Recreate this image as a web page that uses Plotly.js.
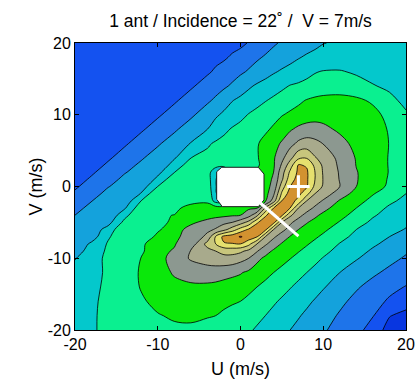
<!DOCTYPE html>
<html><head><meta charset="utf-8">
<script src="https://cdn.plot.ly/plotly-3.0.1.min.js"></script>
<style>html,body{margin:0;padding:0;background:#fff;}#chart{width:417px;height:379px;}</style>
</head><body><div id="chart"></div>
<script>
// Grid (U across, V down from +20 to -20); finer spacing around the central lobe
const uVals = [-20,-18,-16,-14,-12,-10,-8,-6,-4,-3,-2,-1,0,1,2,3,4,5,6,7,8,9,10,12,14,16,18,20];
const vVals = [20,18,16,14,12,10,8,6,4,3,2,1,0,-1,-2,-3,-4,-5,-6,-7,-8,-9,-10,-12,-14,-16,-18,-20];
const zRows = [
[1.2,1.2,1.22,1.25,1.28,1.32,1.38,1.45,1.52,1.57,1.63,1.7,1.78,2.06,2.33,2.61,2.89,3.1,3.28,3.45,3.62,3.79,3.97,4.12,4.22,4.3,4.33,4.35],
[1.2,1.22,1.25,1.28,1.32,1.38,1.45,1.55,1.68,1.78,1.88,2.12,2.37,2.62,2.87,3.1,3.31,3.52,3.73,3.94,4.12,4.25,4.35,4.5,4.52,4.48,4.42,4.38],
[1.22,1.25,1.28,1.32,1.38,1.45,1.55,1.68,1.88,2.12,2.37,2.61,2.85,3.1,3.37,3.63,3.9,4.12,4.3,4.5,4.75,4.95,5.05,5.06,4.9,4.72,4.6,4.52],
[1.25,1.28,1.32,1.38,1.45,1.55,1.68,1.88,2.37,2.61,2.85,3.14,3.5,3.86,4.14,4.36,4.59,4.82,5.05,5.15,5.25,5.35,5.42,5.45,5.3,5.05,4.85,4.7],
[1.28,1.32,1.38,1.45,1.55,1.68,1.88,2.37,2.85,3.16,3.56,3.96,4.22,4.46,4.71,4.95,5.17,5.39,5.61,5.83,6.05,6.2,6.3,6.35,6.2,5.85,5.2,4.8],
[1.32,1.38,1.45,1.55,1.68,1.88,2.36,2.83,3.48,3.85,4.18,4.47,4.76,5.05,5.27,5.5,5.73,5.95,6.15,6.32,6.47,6.6,6.68,6.7,6.55,6.3,5.7,5.1],
[1.38,1.45,1.55,1.68,1.88,2.37,2.85,3.45,3.99,4.45,4.79,5.08,5.27,5.47,5.67,5.86,6.12,6.5,6.88,7.2,7.4,7.4,7.2,6.85,6.56,6.26,5.95,5.5],
[1.45,1.55,1.68,1.88,2.38,2.88,3.44,4.04,4.88,5.11,5.28,5.44,5.61,5.77,5.93,6.25,6.67,7.11,7.67,8.2,8.4,8.25,7.97,7.28,6.76,6.37,5.98,5.6],
[1.55,1.68,1.873,2.38,2.895,3.42,3.89,4.99,5.23,5.35,5.46,5.58,5.7,5.82,5.94,6.29,6.88,7.73,8.7,9.78,9.92,9.08,8.61,7.74,6.93,6.44,5.95,5.5],
[1.5,1.61,2.13,2.668,3.16,3.126,4.45,5.45,5.3,5.4,5.5,5.6,5.7,5.8,5.9,6.25,6.88,8.13,9.5,11.07,10.89,9.75,8.8,7.83,6.97,6.45,5.95,5.5],
[1.7,1.867,2.4,2.938,3.35,3.714,4.984,5.3,5.45,4.3,3.5,5.7,5.8,5.9,6.1,6.6,7.0,8.57,10.17,11.2,11.15,10.0,8.9,7.91,7.04,6.6,5.95,5.6],
[1.61,2.13,2.667,3.2,3.088,4.25,5.68,5.4,5.5,4.1,2.5,5.8,5.9,5.95,6.0,6.5,7.17,8.83,10.57,11.35,11.15,10.0,8.95,7.95,7.05,6.55,5.9,5.45],
[1.867,2.4,2.967,3.3,3.455,5.01,5.35,5.5,5.6,4.1,2.5,5.85,5.9,5.95,5.9,6.6,7.33,9.5,11.0,11.6,11.1,9.78,8.87,8.0,7.0,6.4,5.85,5.2],
[2.15,2.73,3.2,3.26,4.06,5.94,5.6,5.65,5.75,4.2,2.5,5.9,5.95,6.0,6.0,6.6,7.82,10.17,11.45,11.3,10.33,9.0,8.55,7.5,6.65,6.06,5.53,5.0],
[2.45,2.984,3.3,3.327,5.01,5.6,5.75,5.8,5.85,4.6,4.5,6.0,6.05,6.1,6.2,6.85,8.5,11.0,11.45,10.67,9.0,8.44,7.9,6.91,6.32,5.75,5.19,4.75],
[2.834,3.15,3.45,3.874,5.676,5.75,5.85,6.22,6.35,6.45,6.55,6.65,6.75,6.85,6.95,9.11,11.0,11.7,11.0,9.0,8.41,7.83,7.28,6.57,6.0,5.43,4.85,4.55],
[3.0,3.07,3.144,4.7,5.9,5.95,6.01,6.3,6.6,6.72,6.8,6.9,7.0,7.59,8.75,10.83,11.75,11.15,9.2,8.31,7.68,7.16,6.81,6.27,5.7,5.09,4.7,4.35],
[3.1,3.35,3.648,5.287,5.5,5.8,6.133,6.826,7.29,7.53,7.76,8.0,8.56,9.33,10.86,11.67,11.3,9.0,8.17,7.58,7.05,6.76,6.49,5.94,5.34,4.83,4.5,4.15],
[3.3,3.4,4.4,5.9,5.7,5.85,6.6,7.327,7.77,8.09,8.7,9.5,10.4,11.15,11.75,11.25,9.0,8.29,7.63,7.0,6.72,6.44,6.17,5.59,5.0,4.63,4.26,3.95],
[3.4,3.486,4.894,5.6,5.25,6.25,6.946,7.1,8.3,10.1,11.3,11.55,12.1,11.58,11.05,9.0,8.17,7.5,6.95,6.67,6.4,6.12,5.84,5.26,4.78,4.39,4.0,3.7],
[3.2,4.2,5.09,5.5,5.85,6.45,6.952,7.43,9.33,10.0,10.9,10.95,11.0,10.3,9.0,8.17,7.47,6.92,6.64,6.36,6.08,5.8,5.51,4.96,4.54,4.13,3.77,3.45],
[3.376,4.6,5.116,5.5,5.8,6.85,7.05,8.05,8.68,9.0,9.25,9.35,9.2,8.73,8.07,7.36,6.86,6.59,6.32,6.05,5.78,5.5,5.22,4.74,4.31,3.88,3.5,3.1],
[3.963,4.4,5.323,5.81,6.01,6.68,7.32,8.12,8.55,8.7,8.75,8.65,8.35,8.0,7.23,6.82,6.55,6.29,6.03,5.76,5.49,5.22,4.96,4.51,4.07,3.65,3.24,2.9],
[4.25,4.6,5.2,5.55,6.1,6.6,7.1,7.35,7.4,7.38,7.3,7.2,7.07,6.81,6.54,6.27,6.0,5.75,5.5,5.25,5.0,4.75,4.5,4.0,3.55,3.15,2.8,2.5],
[4.4,4.7,5.25,5.6,6.05,6.5,6.75,6.85,6.85,6.8,6.7,6.6,6.5,6.25,6.0,5.76,5.52,5.29,5.05,4.8,4.56,4.32,4.07,3.6,3.1,2.7,2.3,1.95],
[4.5,4.8,5.3,5.6,5.9,6.2,6.35,6.4,6.35,6.3,6.2,6.1,6.0,5.78,5.56,5.33,5.11,4.88,4.64,4.4,4.17,3.93,3.68,3.2,2.75,2.4,1.85,1.45],
[4.55,4.85,5.3,5.55,5.75,5.95,6.1,6.15,6.05,6.0,5.85,5.7,5.6,5.4,5.2,5.0,4.77,4.53,4.3,4.07,3.84,3.6,3.37,2.9,2.5,2.05,1.05,0.7],
[4.6,4.88,5.25,5.45,5.6,5.75,5.85,5.85,5.75,5.68,5.6,5.45,5.3,5.1,4.9,4.67,4.45,4.22,4.0,3.78,3.56,3.34,3.1,2.7,2.3,1.6,0.6,0.4]
];
// one colour per band: below 1, 1-2, ..., 11-12, above 12
const bandColors = ["#0836e0","#1452f0","#1e74ea","#14a2dc","#04c8cc","#0af090","#0ae80a",
                    "#8c9890","#a8aa8c","#c8c67c","#e6e06e","#d39230","#c0402a"];
const tickVals = [-20,-10,0,10,20];
const tickText = ["-20","-10","0","10","20"];
// masked (blank) region around the origin
const maskU = [-2.88,-2.27,2.15,2.84,2.84,2.15,-2.2,-2.88,-2.88];
const maskV = [2.06,2.68,2.68,1.74,-1.88,-2.81,-2.81,-1.78,2.06];
// white segment and wind-speed marker
const segU = [2.4, 7.0];
const segV = [-2.3, -6.9];
const markU = [7];
const markV = [0];

const vAsc = vVals.slice().reverse();
const zAsc = zRows.slice().reverse();
const nb = bandColors.length - 1;
const colorscale = bandColors.map((c, i) => [i / nb, c]);

const traces = [
  {type:'contour', x:uVals, y:vAsc, z:zAsc, autocontour:false,
   contours:{start:1, end:12, size:1, coloring:'fill', showlines:true},
   colorscale:colorscale, showscale:false,
   line:{color:'#000', width:0.8, smoothing:1}, hoverinfo:'skip'},
  {type:'scatter', mode:'lines', x:maskU, y:maskV, fill:'toself', fillcolor:'#ffffff',
   line:{color:'#1a1a1a', width:1}, hoverinfo:'skip', showlegend:false},
  {type:'scatter', mode:'lines', x:segU, y:segV, line:{color:'#ffffff', width:3},
   hoverinfo:'skip', showlegend:false},
  {type:'scatter', mode:'markers', x:markU, y:markV,
   marker:{symbol:'cross-thin', size:16, color:'#ffffff', line:{color:'#ffffff', width:3}},
   hoverinfo:'skip', showlegend:false}
];

const axisBase = {
  range:[-20,20], tickmode:'array', tickvals:tickVals, ticktext:tickText,
  ticks:'inside', ticklen:4, tickcolor:'#000', tickwidth:1,
  showline:true, linecolor:'#000', linewidth:1, mirror:'allticks',
  showgrid:false, zeroline:false, tickfont:{size:16, color:'#000'}
};

const layout = {
  width:417, height:379,
  margin:{l:75, r:11, t:43, b:49, pad:0},
  paper_bgcolor:'#ffffff', plot_bgcolor:'#ffffff',
  font:{family:'"Liberation Sans", Arial, sans-serif', size:16, color:'#000'},
  showlegend:false,
  title:{text:'1 ant / Incidence = 22\u02da /\u00a0 V = 7m/s', font:{size:17.5, color:'#000'},
         x:0.5, xref:'paper', y:0.944, yref:'container', yanchor:'middle'},
  xaxis:Object.assign({}, axisBase, {title:{text:'U (m/s)', font:{size:18}, standoff:11}}),
  yaxis:Object.assign({}, axisBase, {title:{text:'V (m/s)', font:{size:18}, standoff:0}})
};

Plotly.newPlot('chart', traces, layout, {staticPlot:true, displayModeBar:false});
</script>
</body></html>
